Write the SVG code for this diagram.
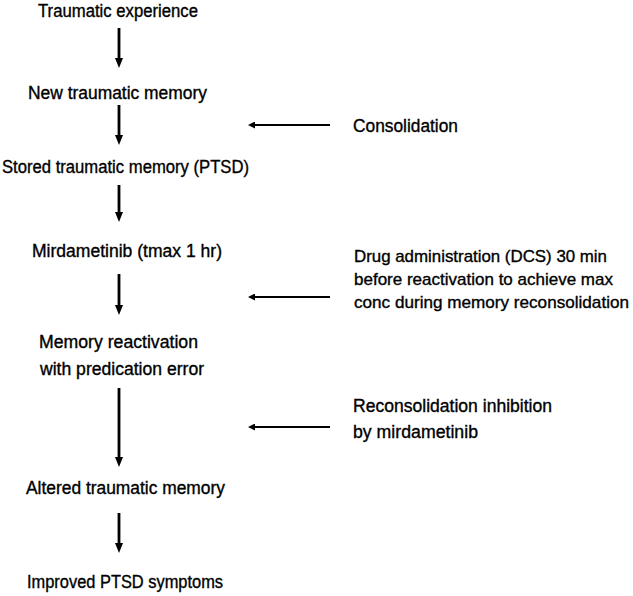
<svg xmlns="http://www.w3.org/2000/svg" width="633" height="596" viewBox="0 0 633 596">
<defs>
<style>
text{font-family:"Liberation Sans",Arial,sans-serif;font-size:17.5px;fill:#000;stroke:#000;stroke-width:0.35}
#l2 text{font-size:17px}
.v{stroke:#000;stroke-width:2.8;fill:none}
.h{stroke:#000;stroke-width:1.9;fill:none}
</style>
<marker id="av" markerUnits="userSpaceOnUse" markerWidth="11" markerHeight="8" refX="4" refY="4" orient="auto"><path d="M0,0 L10,4 L0,8 z" fill="#000"/></marker>
<marker id="ah" markerUnits="userSpaceOnUse" markerWidth="8" markerHeight="7" refX="3" refY="3.5" orient="auto"><path d="M0,0 L7,3.5 L0,7 z" fill="#000"/></marker>
</defs>
<rect width="633" height="596" fill="#fff"/>
<g id="n1"><text x="38" y="17" textLength="160" lengthAdjust="spacingAndGlyphs">Traumatic experience</text></g>
<g id="n2"><text x="28" y="99" textLength="179" lengthAdjust="spacingAndGlyphs">New traumatic memory</text></g>
<g id="n3"><text x="2" y="173" textLength="247" lengthAdjust="spacingAndGlyphs">Stored traumatic memory (PTSD)</text></g>
<g id="n4"><text x="32" y="257" textLength="190" lengthAdjust="spacingAndGlyphs">Mirdametinib (tmax 1 hr)</text></g>
<g id="n5"><text x="39" y="348" textLength="159" lengthAdjust="spacingAndGlyphs">Memory reactivation</text><text x="40" y="375" textLength="164" lengthAdjust="spacingAndGlyphs">with predication error</text></g>
<g id="n6"><text x="26" y="494" textLength="199" lengthAdjust="spacingAndGlyphs">Altered traumatic memory</text></g>
<g id="n7"><text x="27" y="588" textLength="196" lengthAdjust="spacingAndGlyphs">Improved PTSD symptoms</text></g>
<g id="l1"><text x="353" y="132" textLength="105" lengthAdjust="spacingAndGlyphs">Consolidation</text></g>
<g id="l2"><text x="354" y="262" textLength="253" lengthAdjust="spacingAndGlyphs">Drug administration (DCS) 30 min</text><text x="354" y="285" textLength="259" lengthAdjust="spacingAndGlyphs">before reactivation to achieve max</text><text x="354" y="308" textLength="275" lengthAdjust="spacingAndGlyphs">conc during memory reconsolidation</text></g>
<g id="l3"><text x="353" y="412" textLength="199" lengthAdjust="spacingAndGlyphs">Reconsolidation inhibition</text><text x="353" y="438" textLength="125" lengthAdjust="spacingAndGlyphs">by mirdametinib</text></g>
<g id="connectors">
<line class="v" x1="119" y1="28" x2="119" y2="62" marker-end="url(#av)"/>
<line class="v" x1="119" y1="105" x2="119" y2="139" marker-end="url(#av)"/>
<line class="v" x1="119" y1="185" x2="119" y2="216" marker-end="url(#av)"/>
<line class="v" x1="119" y1="274" x2="119" y2="309" marker-end="url(#av)"/>
<line class="v" x1="119" y1="388" x2="119" y2="461" marker-end="url(#av)"/>
<line class="v" x1="119" y1="513" x2="119" y2="547" marker-end="url(#av)"/>
<line class="h" x1="330" y1="125" x2="252" y2="125" marker-end="url(#ah)"/>
<line class="h" x1="330" y1="297" x2="252" y2="297" marker-end="url(#ah)"/>
<line class="h" x1="330" y1="427" x2="252" y2="427" marker-end="url(#ah)"/>
</g>
</svg>
